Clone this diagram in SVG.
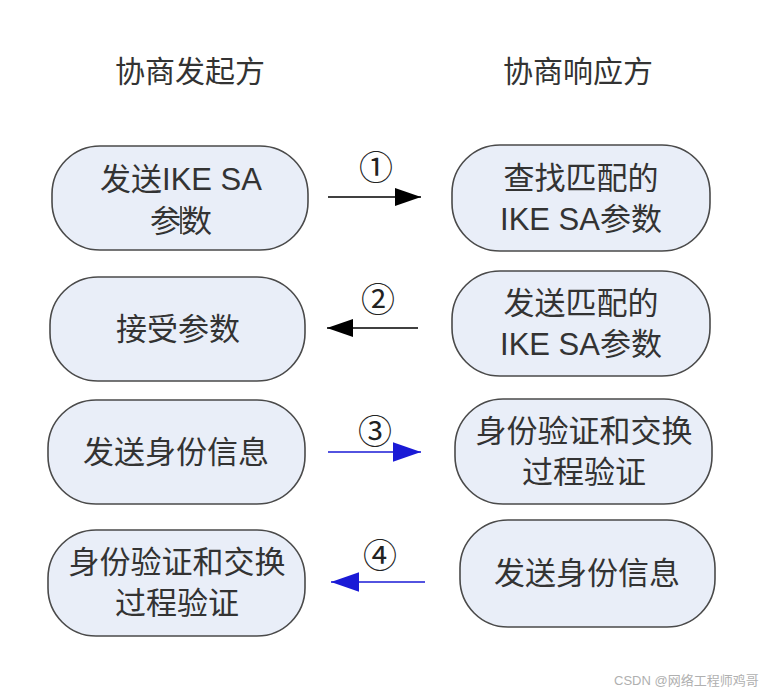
<svg xmlns="http://www.w3.org/2000/svg" width="779" height="694" viewBox="0 0 779 694">
<defs>
<style>
.node{fill:#e9eef8;stroke:#4a4a4a;stroke-width:1.6}
.t{font-family:"Liberation Sans","Noto Sans CJK SC",sans-serif;font-size:31px;fill:#333;text-anchor:middle}
.h{font-family:"Noto Sans CJK SC",sans-serif;font-size:30px;fill:#333;text-anchor:middle}
.num{font-family:"DejaVu Serif","Noto Sans CJK SC",serif;font-size:34px;fill:#222;text-anchor:middle}
.wm{font-family:"Liberation Sans","Noto Sans CJK SC",sans-serif;font-size:13px;fill:#b0b0b0}
</style>
<marker id="ab" viewBox="0 0 10 10" refX="10" refY="5" markerWidth="26" markerHeight="26" markerUnits="userSpaceOnUse" orient="auto"><path d="M0,1.5 L10,5 L0,8.5 z" fill="#000"/></marker>
<marker id="au" viewBox="0 0 10 10" refX="10" refY="5" markerWidth="28" markerHeight="28" markerUnits="userSpaceOnUse" orient="auto"><path d="M0,1.5 L10,5 L0,8.5 z" fill="#1a1ad6"/></marker>
</defs>
<rect width="779" height="694" fill="#fff"/>
<g id="headers">
<text class="h" x="190" y="82">协商发起方</text>
<text class="h" x="578" y="82">协商响应方</text>
</g>
<g id="l1"><rect class="node" x="52" y="146" width="256" height="104" rx="48"/><text class="t" x="181" y="190">发送IKE SA</text><text class="t" x="181" y="232">参数</text><line x1="181" y1="206" x2="181" y2="234" stroke="#222" stroke-width="1.5"/></g>
<g id="l2"><rect class="node" x="50" y="277" width="255" height="104" rx="48"/><text class="t" x="178" y="340">接受参数</text></g>
<g id="l3"><rect class="node" x="48" y="400" width="257" height="104" rx="48"/><text class="t" x="176" y="463">发送身份信息</text></g>
<g id="l4"><rect class="node" x="48" y="530" width="257" height="106" rx="48"/><text class="t" x="177" y="573">身份验证和交换</text><text class="t" x="177" y="614">过程验证</text></g>
<g id="r1"><rect class="node" x="452" y="145" width="258" height="106" rx="48"/><text class="t" x="581" y="189">查找匹配的</text><text class="t" x="581" y="230">IKE SA参数</text></g>
<g id="r2"><rect class="node" x="452" y="271" width="258" height="105" rx="48"/><text class="t" x="581" y="314">发送匹配的</text><text class="t" x="581" y="355">IKE SA参数</text></g>
<g id="r3"><rect class="node" x="455" y="399" width="257" height="105" rx="48"/><text class="t" x="584" y="442">身份验证和交换</text><text class="t" x="584" y="483">过程验证</text></g>
<g id="r4"><rect class="node" x="460" y="520" width="255" height="107" rx="48"/><text class="t" x="587" y="584">发送身份信息</text></g>
<g id="connectors">
<line x1="328" y1="197" x2="421" y2="197" stroke="#000" stroke-width="1.5" marker-end="url(#ab)"/>
<text class="num" x="376" y="180">①</text>
<line x1="418" y1="328" x2="327" y2="328" stroke="#000" stroke-width="1.5" marker-end="url(#ab)"/>
<text class="num" x="378" y="312">②</text>
<line x1="328" y1="452" x2="421" y2="452" stroke="#1a1ad6" stroke-width="1.5" marker-end="url(#au)"/>
<text class="num" x="375" y="444">③</text>
<line x1="425" y1="582" x2="331" y2="582" stroke="#1a1ad6" stroke-width="1.5" marker-end="url(#au)"/>
<text class="num" x="380" y="568">④</text>
</g>
<text class="wm" x="614" y="685">CSDN @网络工程师鸡哥</text>
</svg>
